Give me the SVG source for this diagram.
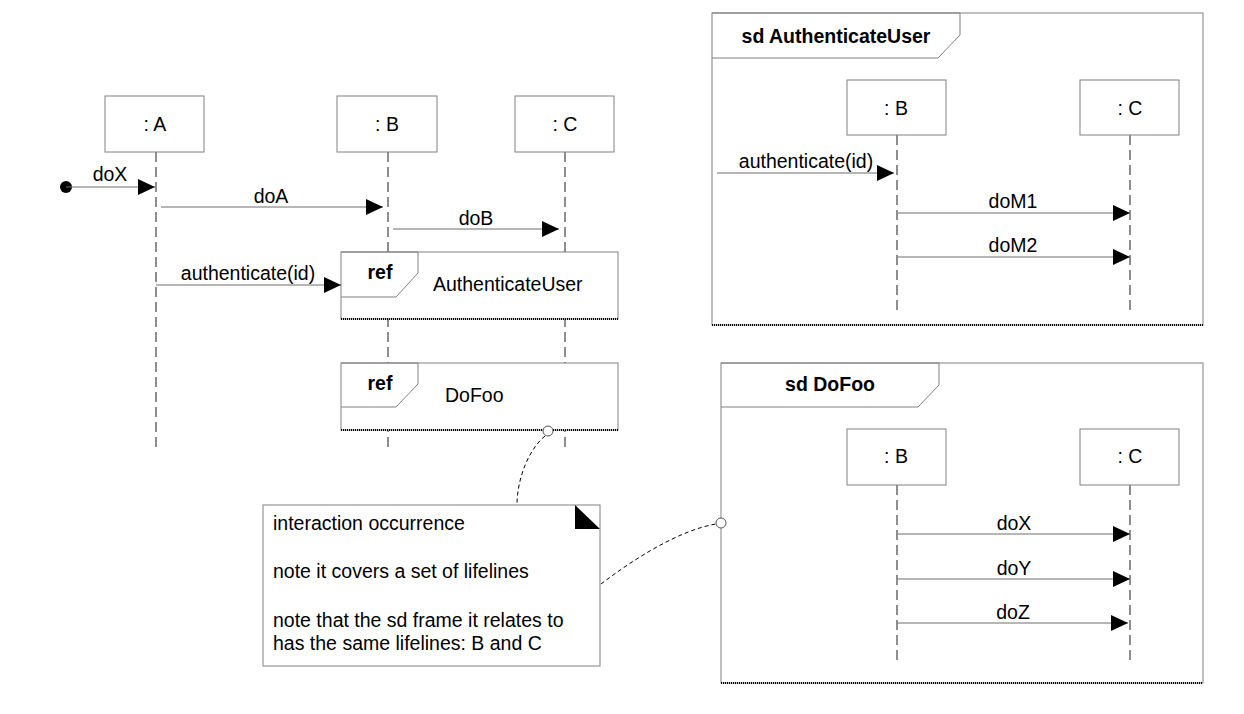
<svg xmlns="http://www.w3.org/2000/svg" width="1244" height="714" viewBox="0 0 1244 714">
<style>
text{font-family:"Liberation Sans",Arial,sans-serif;font-size:19.5px;fill:#000}
.b{font-weight:bold}
.c{text-anchor:middle}
.box{fill:#fff;stroke:#808080;stroke-width:1}
.life{stroke:#444;stroke-width:1.2;stroke-dasharray:10,5;fill:none}
.msg{stroke:#6e6e6e;stroke-width:1.2;fill:none;marker-end:url(#ah)}
.bot{stroke:#000;stroke-width:2;stroke-dasharray:1,1;fill:none}
.note{stroke:#000;stroke-width:1;stroke-dasharray:4,3;fill:none}
</style>
<defs>
<marker id="ah" markerUnits="userSpaceOnUse" markerWidth="18" markerHeight="17" refX="17" refY="8" orient="auto">
<path d="M0,0 L17,8 L0,16 z" fill="#000"/>
</marker>
</defs>
<rect width="1244" height="714" fill="#fff"/>

<!-- main lifelines -->
<g id="lifeline-A">
<line class="life" x1="156" y1="152" x2="156" y2="447"/>
<rect class="box" x="105" y="96" width="99" height="56"/>
<text class="c" x="155" y="131">: A</text>
</g>
<g id="lifeline-B">
<line class="life" x1="388" y1="152" x2="388" y2="447"/>
<rect class="box" x="337" y="96" width="100" height="56"/>
<text class="c" x="387" y="131">: B</text>
</g>
<g id="lifeline-C">
<line class="life" x1="565" y1="152" x2="565" y2="447"/>
<rect class="box" x="515" y="96" width="99" height="56"/>
<text class="c" x="565" y="131">: C</text>
</g>

<g id="ref-AuthenticateUser">
<rect x="341" y="252" width="277" height="67" fill="#fff" stroke="#808080"/>
<path d="M341,252 H418 V273 L396,297 H341" fill="none" stroke="#808080"/>
<line class="bot" x1="341" y1="319" x2="618" y2="319"/>
<text class="b c" x="380" y="279">ref</text>
<text x="433" y="291">AuthenticateUser</text>
</g>
<g id="ref-DoFoo">
<rect x="341" y="363" width="277" height="67" fill="#fff" stroke="#808080"/>
<path d="M341,363 H418 V384 L396,407 H341" fill="none" stroke="#808080"/>
<line class="bot" x1="341" y1="430" x2="618" y2="430"/>
<text class="b c" x="380" y="390">ref</text>
<text x="445" y="402">DoFoo</text>
</g>

<!-- sd AuthenticateUser -->
<g id="sd-AuthenticateUser">
<rect x="712" y="13" width="491" height="312" fill="#fff" stroke="#808080"/>
<path d="M712,13 H960 V35 L938,58 H712" fill="none" stroke="#808080"/>
<line class="bot" x1="712" y1="325" x2="1203" y2="325"/>
<text class="b c" x="836" y="43">sd AuthenticateUser</text>
</g>
<g id="au-lifeline-B">
<line class="life" x1="897" y1="135" x2="897" y2="313"/>
<rect class="box" x="847" y="80" width="99" height="55"/>
<text class="c" x="896" y="115">: B</text>
</g>
<g id="au-lifeline-C">
<line class="life" x1="1130" y1="135" x2="1130" y2="313"/>
<rect class="box" x="1080" y="80" width="99" height="55"/>
<text class="c" x="1130" y="115">: C</text>
</g>

<!-- sd DoFoo -->
<g id="sd-DoFoo">
<rect x="721" y="363" width="482" height="320" fill="#fff" stroke="#808080"/>
<path d="M721,363 H939 V385 L918,407 H721" fill="none" stroke="#808080"/>
<line class="bot" x1="721" y1="683" x2="1203" y2="683"/>
<text class="b c" x="830" y="391">sd DoFoo</text>
</g>
<g id="df-lifeline-B">
<line class="life" x1="897" y1="485" x2="897" y2="663"/>
<rect class="box" x="847" y="429" width="99" height="56"/>
<text class="c" x="896" y="463">: B</text>
</g>
<g id="df-lifeline-C">
<line class="life" x1="1130" y1="485" x2="1130" y2="663"/>
<rect class="box" x="1080" y="429" width="99" height="56"/>
<text class="c" x="1130" y="463">: C</text>
</g>

<!-- note -->
<g id="note">
<rect x="263" y="505" width="337" height="161" fill="#fff" stroke="#808080"/>
<path d="M575,505 L600,529 L575,529 z" fill="#000"/>
<text x="273" y="530">interaction occurrence</text>
<text x="273" y="578">note it covers a set of lifelines</text>
<text x="273" y="627">note that the sd frame it relates to</text>
<text x="273" y="650">has the same lifelines: B and C</text>
</g>

<g id="connectors">
<circle cx="66" cy="187" r="6" fill="#000"/>
<line class="msg" x1="66" y1="187" x2="155" y2="187"/>
<text class="c" x="110" y="181">doX</text>
<line class="msg" x1="161" y1="207" x2="383" y2="207"/>
<text class="c" x="271" y="203">doA</text>
<line class="msg" x1="393" y1="229" x2="559" y2="229"/>
<text class="c" x="476" y="225">doB</text>
<line class="msg" x1="156" y1="285" x2="341" y2="285"/>
<text class="c" x="248" y="280">authenticate(id)</text>

<line class="msg" x1="717" y1="173" x2="894" y2="173"/>
<text class="c" x="806" y="168">authenticate(id)</text>
<line class="msg" x1="898" y1="213" x2="1130" y2="213"/>
<text class="c" x="1013" y="208">doM1</text>
<line class="msg" x1="898" y1="257" x2="1130" y2="257"/>
<text class="c" x="1013" y="252">doM2</text>

<line class="msg" x1="898" y1="534" x2="1130" y2="534"/>
<text class="c" x="1014" y="530">doX</text>
<line class="msg" x1="898" y1="579" x2="1130" y2="579"/>
<text class="c" x="1014" y="575">doY</text>
<line class="msg" x1="897" y1="623" x2="1128" y2="623"/>
<text class="c" x="1013" y="619">doZ</text>

<path class="note" d="M545,436 C528,450 517,480 517,505"/>
<circle cx="548" cy="431" r="5" fill="#fff" stroke="#555"/>
<path class="note" d="M601,584 C635,558 680,530 716,524"/>
<circle cx="721" cy="523" r="5" fill="#fff" stroke="#555"/>
</g>
</svg>
